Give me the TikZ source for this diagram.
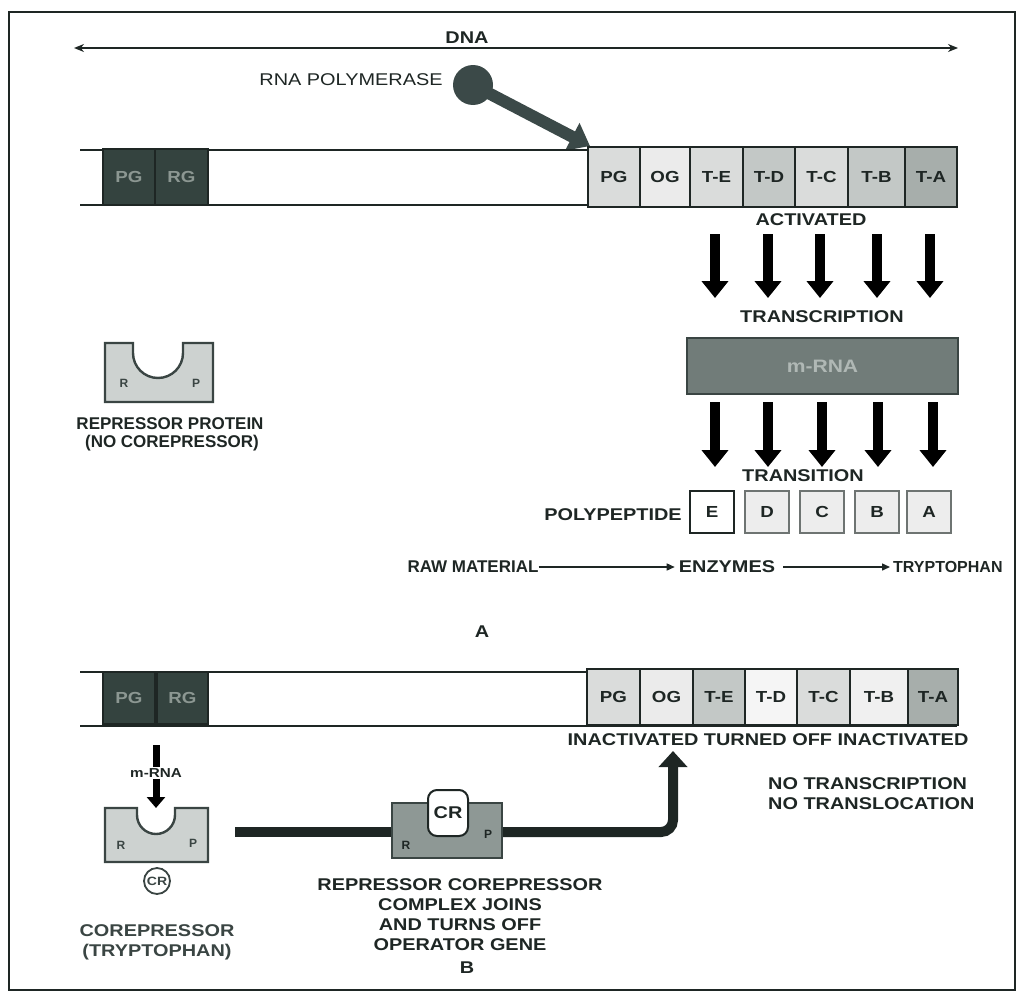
\documentclass[tikz,border=0pt]{standalone}
\usepackage{fontspec}
\setmainfont{Liberation Sans}
\newfontfamily\wf[FakeStretch=1.17]{Liberation Sans}
\usetikzlibrary{arrows.meta}
\definecolor{ink}{HTML}{1E2624}
\definecolor{darkbox}{HTML}{34433F}
\definecolor{darktxt}{HTML}{8C9792}
\definecolor{lightbox}{HTML}{DADCDB}
\definecolor{midbox}{HTML}{C3C8C6}
\definecolor{deepbox}{HTML}{A7AEAB}
\definecolor{mrnabox}{HTML}{717C79}
\definecolor{mrnatxt}{HTML}{B0B8B5}
\definecolor{repfill}{HTML}{CDD2D0}
\definecolor{repline}{HTML}{3A4543}
\definecolor{cplx}{HTML}{8E9895}
\definecolor{polgray}{HTML}{6E7472}
\definecolor{ball}{HTML}{3B4948}
\begin{document}
\begin{tikzpicture}[x=1pt,y=-1pt,
  lbl/.style={font=\wf\fontsize{17}{20}\selectfont\bfseries, text=ink, inner sep=0pt},
  plainlbl/.style={font=\fontsize{17}{20}\selectfont\bfseries, text=ink, inner sep=0pt},
  genebox/.style={draw=ink, line width=1.6pt, inner sep=0pt, minimum height=58pt,
    font=\wf\fontsize{16}{18}\selectfont\bfseries, text=ink},
  darkgene/.style={genebox, fill=darkbox, text=darktxt, minimum height=56pt},
  polybox/.style={draw=polgray, line width=2.2pt, fill=white!93!black, inner sep=0pt,
    minimum width=44pt, minimum height=42pt, font=\wf\fontsize{16}{18}\selectfont\bfseries, text=ink},
  bigarrow/.style={draw=black, line width=10pt, -{Triangle[length=17pt,width=26pt]}},
  thinarrow/.style={draw=ink, line width=1.4pt, -{Triangle[length=8pt,width=7pt]}},
  barline/.style={draw=ink, line width=2.4pt},
  smallletter/.style={font=\fontsize{12}{13}\selectfont\bfseries, text=repline},
]
\useasboundingbox (0,0) rectangle (1024,998);
% frame
\draw[draw=ink, line width=2.5pt] (9,12) rectangle (1015,990);

% ---- DNA arrow
\coordinate (dnaL) at (74,48);
\coordinate (dnaR) at (958,48);
\draw[draw=ink, line width=1.6pt, {Stealth[length=10pt,width=8pt]}-{Stealth[length=10pt,width=8pt]}] (dnaL) -- (dnaR);
\node[lbl] (dna) at (467,38) {DNA};

% ---- RNA polymerase
\node[lbl, font=\wf\fontsize{17}{20}\selectfont] (rnapol) at (351,80) {RNA POLYMERASE};
\node[circle, fill=ball, minimum size=40pt, inner sep=0pt] (pol) at (473,85) {};
\coordinate (poltip) at (590,146);
\draw[draw=ball, line width=12pt, -{Triangle[length=20pt,width=30pt]}] (pol.center) -- (poltip);

% ---- top DNA bar
\draw[barline] (80,150) -- (957,150);
\draw[barline] (80,205) -- (957,205);
\node[darkgene, minimum width=52pt] (pgL1) at (129,177) {PG};
\node[darkgene, minimum width=53pt] (rgL1) at (181.5,177) {RG};
\node[genebox, fill=lightbox, minimum width=52pt, minimum height=60pt] (pg1) at (614,177) {PG};
\node[genebox, fill=white!92!black, minimum width=50pt, minimum height=60pt] (og1) at (665,177) {OG};
\node[genebox, fill=lightbox, minimum width=53pt, minimum height=60pt] (te1) at (716.5,177) {T-E};
\node[genebox, fill=midbox, minimum width=52pt, minimum height=60pt] (td1) at (769,177) {T-D};
\node[genebox, fill=lightbox, minimum width=53pt, minimum height=60pt] (tc1) at (821.5,177) {T-C};
\node[genebox, fill=midbox, minimum width=57pt, minimum height=60pt] (tb1) at (876.5,177) {T-B};
\node[genebox, fill=deepbox, minimum width=52pt, minimum height=60pt] (ta1) at (931,177) {T-A};
\node[lbl] (activated) at (811,220) {ACTIVATED};

% ---- arrows row 1
\foreach \x [count=\i] in {715,768,820,877,930} {
  \coordinate (a\i s) at (\x,234);
  \coordinate (a\i e) at (\x,298);
  \draw[bigarrow] (a\i s) -- (a\i e);
}
\node[lbl] (transcr) at (822,317) {TRANSCRIPTION};
\node[draw=repline, line width=1.6pt, fill=mrnabox, minimum width=271pt, minimum height=56pt,
  inner sep=0pt, font=\wf\fontsize{18}{20}\selectfont\bfseries, text=mrnatxt] (mrna) at (822.5,366) {m-RNA};

% ---- arrows row 2
\foreach \x [count=\i] in {715,768,822,878,933} {
  \coordinate (b\i s) at (\x,402);
  \coordinate (b\i e) at (\x,467);
  \draw[bigarrow] (b\i s) -- (b\i e);
}
\node[lbl] (transit) at (803,476) {TRANSITION};

% ---- polypeptide
\node[lbl] (polypep) at (613,515) {POLYPEPTIDE};
\node[polybox, draw=ink, fill=white] (pE) at (712,512) {E};
\node[polybox] (pD) at (767,512) {D};
\node[polybox] (pC) at (822,512) {C};
\node[polybox] (pB) at (877,512) {B};
\node[polybox] (pA) at (929,512) {A};

% ---- raw material row
\node[plainlbl] (raw) at (473,567) {RAW MATERIAL};
\node[lbl] (enz) at (727,567) {ENZYMES};
\node[plainlbl, font=\fontsize{16}{20}\selectfont\bfseries, anchor=west] (tryp) at (893,567) {TRYPTOPHAN};
\draw[thinarrow] (raw.east) -- ([xshift=-4pt]enz.west);
\draw[thinarrow] ([xshift=8pt]enz.east) -- ([xshift=-3pt]tryp.west);
\node[lbl] (labA) at (482,632) {A};

% ---- repressor protein (no corepressor)
\draw[draw=repline, line width=2.4pt, fill=repfill]
  (105,343) -- (133,343) -- (133,353) arc[start angle=180, end angle=360, radius=25pt]
  -- (183,343) -- (213,343) -- (213,402) -- (105,402) -- cycle;
\node[smallletter] (r1) at (124,383) {R};
\node[smallletter] (p1) at (196,383) {P};
\node[plainlbl] (repprot) at (170,424) {REPRESSOR PROTEIN};
\node[plainlbl] (nocore) at (172,443) {(NO COREPRESSOR)};

% ---- bottom DNA bar
\draw[barline] (80,672) -- (957,672);
\draw[barline] (80,726) -- (957,726);
\node[darkgene, minimum width=52pt, minimum height=52pt] (pgL2) at (129,698) {PG};
\node[darkgene, minimum width=51pt, minimum height=52pt] (rgL2) at (182.5,698) {RG};
\node[genebox, fill=lightbox, minimum width=53pt, minimum height=56pt] (pg2) at (613.5,697) {PG};
\node[genebox, fill=white!92!black, minimum width=53pt, minimum height=56pt] (og2) at (666.5,697) {OG};
\node[genebox, fill=midbox, minimum width=52pt, minimum height=56pt] (te2) at (719,697) {T-E};
\node[genebox, fill=white!96!black, minimum width=52pt, minimum height=56pt] (td2) at (771,697) {T-D};
\node[genebox, fill=lightbox, minimum width=53pt, minimum height=56pt] (tc2) at (823.5,697) {T-C};
\node[genebox, fill=white!94!black, minimum width=58pt, minimum height=56pt] (tb2) at (879,697) {T-B};
\node[genebox, fill=deepbox, minimum width=50pt, minimum height=56pt] (ta2) at (933,697) {T-A};
\node[lbl] (inact) at (768,740) {INACTIVATED TURNED OFF INACTIVATED};
\node[lbl, align=left, anchor=west] (notr) at (768,794) {NO TRANSCRIPTION\\NO TRANSLOCATION};

% ---- bottom-left repressor with corepressor
\node[font=\wf\fontsize{13}{14}\selectfont\bfseries, text=ink, inner sep=1pt] (mrna2) at (156,773) {m-RNA};
\coordinate (m2top) at (156,745);
\coordinate (m2tip) at (156,808);
\draw[draw=black, line width=7pt] (m2top) -- (mrna2.north);
\draw[draw=black, line width=7pt, -{Triangle[length=11pt,width=18pt]}] (mrna2.south) -- (m2tip);
\draw[draw=repline, line width=2.4pt, fill=repfill]
  (105,808) -- (137,808) -- (137,815) arc[start angle=180, end angle=360, radius=19pt]
  -- (175,815) -- (175,808) -- (208,808) -- (208,862) -- (105,862) -- cycle;
\node[smallletter] (r2) at (121,845) {R};
\node[smallletter] (p2) at (193,843) {P};
\node[circle, draw=repline, line width=1.8pt, fill=white, minimum size=26pt, inner sep=0pt,
  font=\wf\fontsize{12}{13}\selectfont\bfseries, text=repline] (cr1) at (157,881) {CR};
\node[lbl, text=repline, align=center] (corep) at (157,942) {COREPRESSOR\\(TRYPTOPHAN)};

% ---- complex
\node[draw=repline, line width=2pt, fill=cplx, minimum width=110pt, minimum height=55pt, inner sep=0pt] (cplx) at (447,830) {};
\node[smallletter, text=ink] (r3) at (406,845) {R};
\node[smallletter, text=ink] (p3) at (488,834) {P};
\node[draw=ink, line width=2pt, fill=white, rounded corners=9pt, minimum width=40pt, minimum height=46pt,
  inner sep=0pt, font=\wf\fontsize{17}{18}\selectfont\bfseries, text=ink] (cr2) at (448,813) {CR};
\coordinate (lineStart) at (235,832);
\coordinate (upTip) at (673,751);
\draw[draw=ink, line width=10pt] (lineStart) -- (cplx.west |- lineStart);
\draw[draw=ink, line width=10pt, rounded corners=12pt, -{Triangle[length=16pt,width=28pt]}]
  (cplx.east |- lineStart) -- (673,832) -- (upTip);
\node[lbl, align=center] (cplxtxt) at (460,915) {REPRESSOR COREPRESSOR\\COMPLEX JOINS\\AND TURNS OFF\\OPERATOR GENE};
\node[lbl] (labB) at (467,968) {B};
\end{tikzpicture}
\end{document}
